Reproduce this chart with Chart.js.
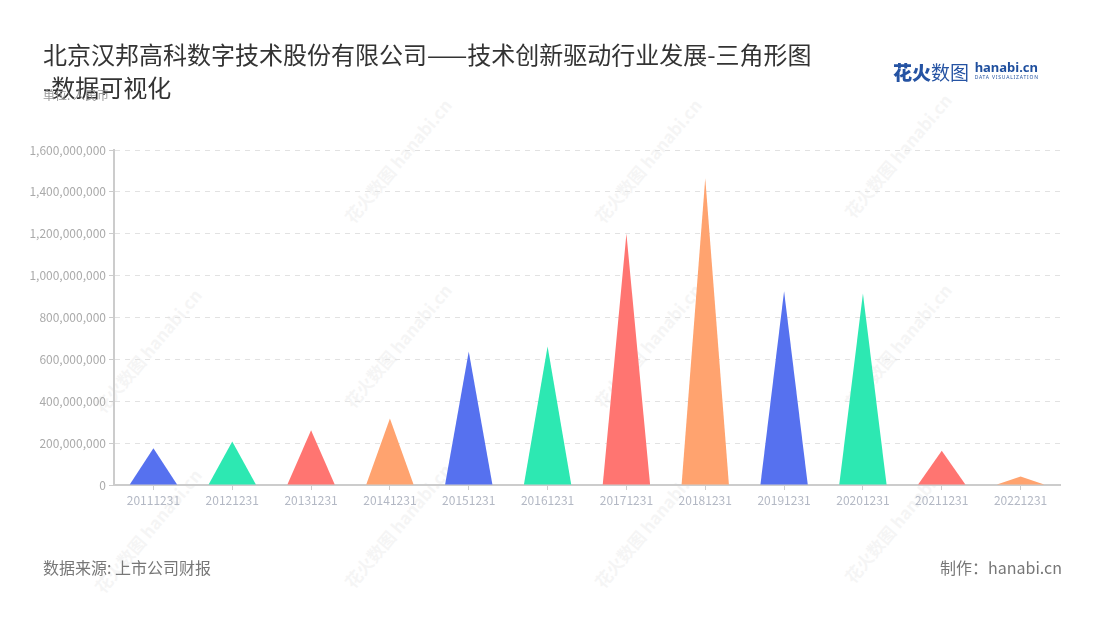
<!DOCTYPE html>
<html>
<head>
<meta charset="utf-8">
<script src="https://cdn.jsdelivr.net/npm/chart.js@4/dist/chart.umd.min.js"></script>
<style>
  body { margin: 0; background: #fff; font-family: "Noto Sans CJK SC", "Noto Sans", sans-serif; }
  #wrap { position: relative; width: 1100px; height: 620px; overflow: hidden; }
  #chart { position: absolute; left: 0; top: 0; }
  .title { position: absolute; left: 43px; font-size: 24px; color: #333; white-space: nowrap; line-height: 32px; }
  .unit { position: absolute; left: 43px; top: 86px; font-size: 12px; color: #999; }
  .foot { position: absolute; top: 555px; font-size: 16px; color: #777; }
  .logo { position: absolute; left: 893px; top: 58px; white-space: nowrap; }
  .wm { position: absolute; font-size: 17px; color: #000; opacity: 0.035; font-weight: bold; transform: rotate(-50deg); white-space: nowrap; }
</style>
</head>
<body>
<div id="wrap">
  <div id="marks"></div>
  <canvas id="chart" width="1100" height="620"></canvas>
  <div class="title" style="top:38px">北京汉邦高科数字技术股份有限公司——技术创新驱动行业发展-三角形图</div>
  <div class="title" style="top:71px">-数据可视化</div>
  <div class="unit">单位: 人民币</div>
  <div class="logo">
    <span style="font-size:19px;font-weight:900;color:#2553a3;vertical-align:top">花火</span><span style="font-size:19px;color:#2553a3;vertical-align:top">数图</span>
    <span style="display:inline-block;vertical-align:top;margin-left:2px;line-height:1;margin-top:3px">
      <span style="font-size:13px;font-weight:bold;color:#1f4f9e;font-family:'Noto Sans',sans-serif;display:block;height:14px">hanabi.cn</span>
      <span style="font-size:5px;color:#1f4f9e;letter-spacing:0.8px;font-family:'Noto Sans',sans-serif;display:block">DATA VISUALIZATION</span>
    </span>
  </div>
  <div class="foot" style="left:43px">数据来源: 上市公司财报</div>
  <div class="foot" style="right:38px">制作：hanabi.cn</div>
</div>
<script>
const categories = ['20111231', '20121231', '20131231', '20141231', '20151231', '20161231',
                    '20171231', '20181231', '20191231', '20201231', '20211231', '20221231'];
const values = [175000000, 208000000, 262000000, 318000000, 638000000, 662000000,
                1200000000, 1465000000, 925000000, 915000000, 163000000, 41000000];
const barColors = ['#5671ef', '#2de8b2', '#ff7571', '#ffa36f'];

// faint watermarks
const marks = document.getElementById('marks');
[[150, 350], [400, 160], [400, 345], [400, 525], [650, 160], [650, 345], [650, 525], [900, 155], [900, 345], [900, 520], [150, 530]].forEach(([x, y]) => {
  const d = document.createElement('div');
  d.className = 'wm';
  d.textContent = '花火数图 hanabi.cn';
  d.style.left = (x - 80) + 'px';
  d.style.top = (y - 12) + 'px';
  marks.appendChild(d);
});

const triangles = {
  id: 'triangles',
  afterDatasetsDraw(chart) {
    const ctx = chart.ctx;
    chart.getDatasetMeta(0).data.forEach((bar, i) => {
      const p = bar.getProps(['x', 'y', 'base', 'width'], true);
      ctx.save();
      ctx.fillStyle = barColors[i % barColors.length];
      ctx.beginPath();
      ctx.moveTo(p.x - p.width / 2, p.base);
      ctx.lineTo(p.x, p.y);
      ctx.lineTo(p.x + p.width / 2, p.base);
      ctx.closePath();
      ctx.fill();
      ctx.restore();
    });
  }
};

new Chart(document.getElementById('chart'), {
  type: 'bar',
  data: {
    labels: categories,
    datasets: [{
      data: values,
      backgroundColor: 'rgba(0,0,0,0)',
      categoryPercentage: 1,
      barPercentage: 0.6
    }]
  },
  plugins: [triangles],
  options: {
    responsive: false,
    animation: false,
    layout: { padding: { left: 0, right: 40, top: 150, bottom: 0 } },
    plugins: {
      legend: { display: false },
      tooltip: { enabled: false }
    },
    scales: {
      x: {
        afterFit: s => { s.height = 135; },
        border: { color: '#ccc', width: 2 },
        grid: { offset: false, drawOnChartArea: false, tickLength: 5, tickColor: '#ccc' },
        ticks: { color: '#b3b8c4', font: { size: 12, family: 'Noto Sans CJK SC' }, maxRotation: 0, padding: 3 }
      },
      y: {
        min: 0,
        max: 1600000000,
        afterFit: s => { s.width = 114; },
        border: { color: '#ccc', width: 2, dash: [5, 5] },
        grid: { color: '#e2e2e2', tickBorderDash: [], tickColor: '#ccc', tickLength: 5 },
        ticks: {
          stepSize: 200000000,
          color: '#aaa',
          padding: 3,
          font: { size: 12, family: 'Noto Sans CJK SC' },
          callback: v => v.toLocaleString('en-US')
        }
      }
    }
  }
});
</script>
</body>
</html>
